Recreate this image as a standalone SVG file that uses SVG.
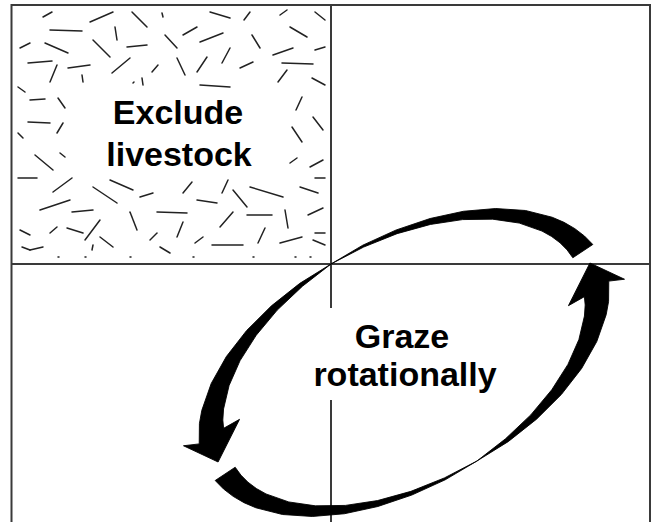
<svg xmlns="http://www.w3.org/2000/svg" xmlns:xlink="http://www.w3.org/1999/xlink" width="652" height="522" viewBox="0 0 652 522">
<style>
.frame{stroke:#3a3a3a;stroke-width:2;fill:none}
.hatch line{stroke:#222;stroke-width:1.5;stroke-linecap:round}
.label{font-family:"Liberation Sans",Arial,sans-serif;font-weight:bold;font-size:34px;text-anchor:middle;fill:#000}
.arrow{fill:#000;stroke:#000;stroke-width:0.8;stroke-linejoin:round}
</style>
<defs>
<path id="segT" d="M-14.7,-121.7 L22.16,-122.35 58.67,-119.1 93.8,-112.32 126.49,-102.09 155.76,-88.61 180.74,-72.15 200.6,-53.11 208.4,-42.79 214.68,-31.99 219.38,-20.82 222.46,-9.35 198.52,-7.68 197.43,-17.34 194.79,-27.03 190.6,-36.66 184.9,-46.12 169.1,-64.3 147.78,-80.9 121.56,-95.31 91.2,-106.98 57.63,-115.45 21.94,-120.3 Z"/>
<path id="segL" d="M-14.7,-121.7 L-51.51,-120.27 -87.28,-114.74 -120.98,-105.57 -151.55,-92.9 -177.98,-77 -199.44,-58.26 -208.04,-47.97 -218.27,-30.38 -232.87,-36.53 -210.8,-5.32 -171.03,-31.81 -189.35,-31.87 -185.94,-39.48 -179.85,-48.71 -163.42,-66.42 -141.61,-82.61 -115,-96.7 -84.35,-108.16 -50.57,-116.48 Z"/>
</defs>
<rect width="652" height="522" fill="#fff"/>
<g id="grid">
<path class="frame" d="M11.5,523 V5 H650 V523"/>
<path class="frame" d="M11.5,264 H650"/>
<path class="frame" d="M331,5 V308 M331,400 V523"/>
</g>
<g id="exclude">
<g class="hatch">
<line x1="43" y1="17" x2="52" y2="12"/><line x1="90" y1="22" x2="113" y2="12"/><line x1="132" y1="12" x2="147" y2="27"/><line x1="162" y1="13" x2="163" y2="17"/>
<line x1="210" y1="12" x2="230" y2="18"/><line x1="244" y1="20" x2="250" y2="12"/><line x1="280" y1="15" x2="287" y2="10"/><line x1="315" y1="12" x2="325" y2="20"/>
<line x1="50" y1="30" x2="82" y2="31"/><line x1="115" y1="27" x2="117" y2="40"/><line x1="183" y1="35" x2="197" y2="27"/><line x1="290" y1="27" x2="307" y2="37"/>
<line x1="20" y1="48" x2="30" y2="43"/><line x1="45" y1="43" x2="68" y2="53"/><line x1="93" y1="40" x2="110" y2="57"/><line x1="127" y1="47" x2="147" y2="45"/>
<line x1="165" y1="35" x2="177" y2="48"/><line x1="200" y1="42" x2="223" y2="33"/><line x1="252" y1="35" x2="260" y2="48"/><line x1="273" y1="55" x2="293" y2="48"/>
<line x1="315" y1="50" x2="325" y2="47"/><line x1="28" y1="63" x2="52" y2="61"/><line x1="50" y1="82" x2="57" y2="65"/><line x1="68" y1="68" x2="90" y2="65"/>
<line x1="82" y1="75" x2="83" y2="82"/><line x1="112" y1="73" x2="130" y2="58"/><line x1="152" y1="72" x2="158" y2="65"/><line x1="177" y1="58" x2="185" y2="75"/>
<line x1="197" y1="72" x2="207" y2="57"/><line x1="222" y1="63" x2="230" y2="48"/><line x1="240" y1="68" x2="253" y2="62"/><line x1="282" y1="63" x2="313" y2="64"/>
<line x1="18" y1="87" x2="25" y2="92"/><line x1="278" y1="82" x2="287" y2="70"/><line x1="312" y1="78" x2="325" y2="85"/><line x1="142" y1="78" x2="143" y2="85"/>
<line x1="133" y1="83" x2="134" y2="82"/><line x1="200" y1="85" x2="230" y2="87"/><line x1="30" y1="100" x2="45" y2="99"/><line x1="58" y1="98" x2="65" y2="108"/>
<line x1="302" y1="97" x2="296" y2="110"/><line x1="28" y1="122" x2="50" y2="123"/><line x1="57" y1="133" x2="63" y2="123"/><line x1="292" y1="127" x2="302" y2="142"/>
<line x1="313" y1="117" x2="323" y2="130"/><line x1="18" y1="133" x2="23" y2="138"/><line x1="35" y1="155" x2="53" y2="170"/><line x1="60" y1="153" x2="65" y2="157"/>
<line x1="290" y1="163" x2="297" y2="158"/><line x1="310" y1="167" x2="323" y2="160"/><line x1="18" y1="178" x2="37" y2="178"/><line x1="53" y1="192" x2="72" y2="178"/>
<line x1="93" y1="187" x2="117" y2="203"/><line x1="110" y1="180" x2="133" y2="190"/><line x1="140" y1="197" x2="153" y2="193"/><line x1="183" y1="193" x2="192" y2="182"/>
<line x1="222" y1="193" x2="228" y2="180"/><line x1="233" y1="190" x2="247" y2="207"/><line x1="250" y1="187" x2="283" y2="197"/><line x1="300" y1="187" x2="318" y2="193"/>
<line x1="315" y1="178" x2="325" y2="178"/><line x1="40" y1="210" x2="70" y2="200"/><line x1="72" y1="212" x2="93" y2="210"/><line x1="130" y1="212" x2="137" y2="230"/>
<line x1="157" y1="212" x2="187" y2="213"/><line x1="197" y1="200" x2="217" y2="203"/><line x1="220" y1="227" x2="233" y2="212"/><line x1="247" y1="215" x2="272" y2="215"/>
<line x1="285" y1="210" x2="288" y2="228"/><line x1="308" y1="215" x2="323" y2="208"/><line x1="20" y1="230" x2="30" y2="235"/><line x1="50" y1="233" x2="57" y2="227"/>
<line x1="67" y1="228" x2="83" y2="233"/><line x1="85" y1="240" x2="100" y2="220"/><line x1="100" y1="237" x2="113" y2="247"/><line x1="150" y1="240" x2="157" y2="233"/>
<line x1="177" y1="237" x2="183" y2="222"/><line x1="195" y1="243" x2="203" y2="237"/><line x1="212" y1="245" x2="243" y2="245"/><line x1="258" y1="243" x2="265" y2="228"/>
<line x1="280" y1="243" x2="302" y2="237"/><line x1="315" y1="233" x2="325" y2="233"/><line x1="313" y1="240" x2="325" y2="245"/><line x1="22" y1="247" x2="30" y2="250"/>
<line x1="30" y1="250" x2="43" y2="247"/><line x1="92" y1="250" x2="93" y2="245"/><line x1="160" y1="247" x2="170" y2="253"/>
<line x1="58" y1="257" x2="59" y2="257"/><line x1="85" y1="257" x2="86" y2="257"/><line x1="130" y1="257" x2="131" y2="257"/><line x1="193" y1="257" x2="194" y2="257"/>
<line x1="253" y1="257" x2="254" y2="257"/><line x1="295" y1="257" x2="296" y2="257"/><line x1="310" y1="257" x2="311" y2="257"/>
</g>
<text class="label" x="178" y="124">Exclude</text>
<text class="label" x="179" y="166">livestock</text>
</g>
<g id="graze">
<text class="label" x="402" y="348">Graze</text>
<text class="label" x="405" y="386">rotationally</text>
</g>
<g id="connectors" transform="translate(404,362.5) rotate(-29.6)">
<use xlink:href="#segT" class="arrow"/>
<use xlink:href="#segL" class="arrow"/>
<use xlink:href="#segT" class="arrow" transform="rotate(180)"/>
<use xlink:href="#segL" class="arrow" transform="rotate(180)"/>
</g>
</svg>
